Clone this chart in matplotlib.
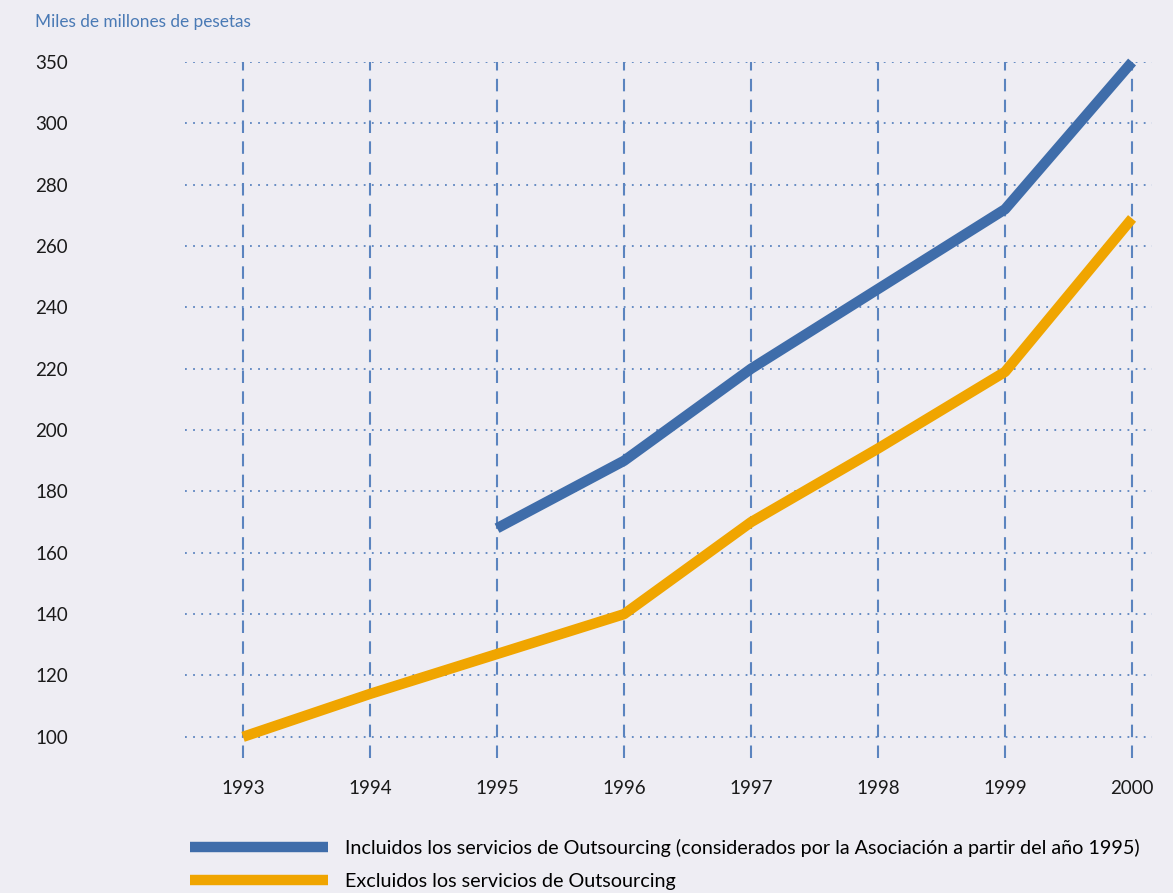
import matplotlib.pyplot as plt
import numpy as np

years = [1993, 1994, 1995, 1996, 1997, 1998, 1999, 2000]
incl_years = [1995, 1996, 1997, 1998, 1999, 2000]
incl_values = [168, 190, 220, 246, 272, 350]
excl_values = [100, 114, 127, 140, 170, 194, 219, 269]
y_ticks = [100, 120, 140, 160, 180, 200, 220, 240, 260, 280, 300, 350]

label_incl = "Incluidos los servicios de Outsourcing (considerados por la Asociación a partir del año 1995)"
label_excl = "Excluidos los servicios de Outsourcing"

bg = "#EEEDF3"
blue = "#3F6DAA"
orange = "#F0A500"
grid_col = "#5B84BF"

plt.rcParams['font.family'] = ['Lato', 'DejaVu Sans']


# above 300 the original chart squeezes 300-350 into one 20-unit step
def fwd(y):
    y = np.asarray(y, dtype=float)
    return np.where(y <= 300, y, 300 + (y - 300) * 20.0 / 50.0)


def inv(y):
    y = np.asarray(y, dtype=float)
    return np.where(y <= 300, y, 300 + (y - 300) * 50.0 / 20.0)


fig = plt.figure(figsize=(11.73, 8.93), dpi=100, facecolor=bg)
ax = fig.add_axes([185 / 1173, 1 - 758 / 893, (1152 - 185) / 1173, (758 - 62) / 893])
ax.set_facecolor(bg)
ax.set_yscale('function', functions=(fwd, inv))

ax.plot(incl_years, incl_values, color=blue, lw=7.5, solid_capstyle='butt', clip_on=False, zorder=3, label=label_incl)
ax.plot(years, excl_values, color=orange, lw=7.5, solid_capstyle='butt', clip_on=False, zorder=3, label=label_excl)

ax.set_xlim(1992.543, 2000.157)
ax.set_ylim(93.1, 350)

for t in y_ticks:
    ax.axhline(t, color=grid_col, lw=1.3, linestyle=(0, (1, 3.5)), zorder=1)
for yr in years:
    ax.axvline(yr, color=grid_col, lw=1.5, linestyle=(0, (6, 4)), zorder=1)

ax.set_xticks(years)
ax.set_xticklabels([str(y) for y in years], fontsize=13.5, color="#1a1a1a")
ax.set_yticks(y_ticks)
ax.set_yticklabels([str(y) for y in y_ticks], fontsize=13.5, color="#1a1a1a", ha='left')
ax.yaxis.set_minor_locator(plt.NullLocator())
ax.tick_params(axis='x', length=0, pad=16)
ax.tick_params(axis='y', length=0, pad=108)

for s in ax.spines.values():
    s.set_visible(False)

fig.text(35 / 1173, 1 - 22 / 893, "Miles de millones de pesetas", fontsize=12.4, color="#4A7AB5", va='center', ha='left')

fig.legend(loc='upper left', bbox_to_anchor=(190 / 1173, 1 - 839 / 893), frameon=False,
           borderpad=0, borderaxespad=0,
           fontsize=14.2, handlelength=7.0, handletextpad=0.85, labelspacing=0.82)

fig.savefig("out.png", dpi=100, facecolor=bg)
